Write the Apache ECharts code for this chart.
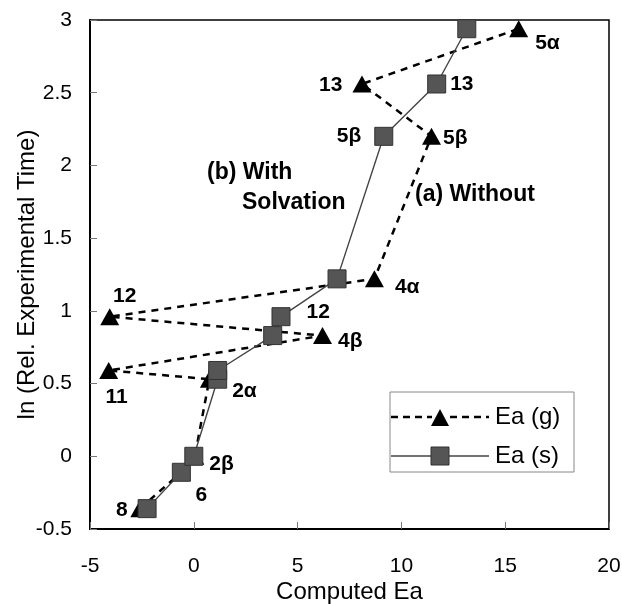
<!DOCTYPE html>
<html>
<head>
<meta charset="utf-8">
<script src="https://cdn.jsdelivr.net/npm/echarts@6/dist/echarts.min.js"></script>
<style>
html,body{margin:0;padding:0;background:#fff}
#main{width:622px;height:604px}
</style>
</head>
<body>
<div id="main"></div>
<script>
// compounds, ordered by experimental time
var compounds = ['8','6','2β','2α','11','4β','12','4α','5β','13','5α'];
var lnTime = [-0.36,-0.11,0.0,0.53,0.59,0.83,0.96,1.22,2.2,2.56,2.94];
// computed Ea, gas phase (a) and with solvation (b)
var eaGas = [-2.6,-0.6,0.05,0.75,-4.1,6.2,-4.05,8.7,11.45,8.1,15.65];
var eaSolv = [-2.25,-0.6,0.0,1.15,1.15,3.8,4.2,6.9,9.15,11.7,13.15];
var xTicks = [-5,0,5,10,15,20];
var yTicks = [-0.5,0,0.5,1,1.5,2,2.5,3];

var font = 'Liberation Sans, Arial, sans-serif';

// which points get a name tag and where it sits
var gasLabels = {
    '11': {position:'bottom', distance:8, offset:[8,0]},
    '12': {position:'top', distance:1, offset:[15,0]},
    '4β': {position:'right', distance:6, offset:[0,6]},
    '4α': {position:'right', distance:11, offset:[0,8]},
    '5β': {position:'right', distance:2, offset:[0,2]},
    '13': {position:'left', distance:10, offset:[0,1]},
    '5α': {position:'right', distance:7, offset:[0,14]}
};
var solvLabels = {
    '8': {position:'left', distance:10, offset:[0,2]},
    '6': {position:'bottom', distance:3, offset:[20,0]},
    '2β': {position:'right', distance:6, offset:[0,8]},
    '2α': {position:'right', distance:5, offset:[0,12]},
    '12': {position:'right', distance:16, offset:[0,-4]},
    '5β': {position:'left', distance:13, offset:[0,0]},
    '13': {position:'right', distance:4, offset:[0,0]}
};

function buildData(xs, tags) {
    return compounds.map(function (name, i) {
        var item = {name: name, value: [xs[i], lnTime[i]]};
        var t = tags[name];
        if (t) {
            item.label = {
                show: true,
                formatter: name,
                position: t.position,
                distance: t.distance,
                offset: t.offset,
                color: '#000',
                fontWeight: 'bold',
                fontSize: 21,
                fontFamily: font
            };
        }
        return item;
    });
}

// key box, drawn by hand so the line runs on both sides of the marker
var gasDash = {stroke: '#000', lineWidth: 2.5, lineDash: [7, 5]};
var solvRule = {stroke: '#444', lineWidth: 1.3};
var legendKey = [
    {type: 'rect', shape: {x: 390, y: 392, width: 184, height: 80}, style: {fill: 'none', stroke: '#888', lineWidth: 1}},
    {type: 'line', shape: {x1: 391, y1: 417, x2: 432, y2: 417}, style: gasDash},
    {type: 'line', shape: {x1: 450, y1: 417, x2: 489, y2: 417}, style: gasDash},
    {type: 'polygon', shape: {points: [[431, 426], [440, 409], [449, 426]]}, style: {fill: '#000'}},
    {type: 'text', x: 495, y: 417, style: {text: 'Ea (g)', font: '24px ' + font, fill: '#000', verticalAlign: 'middle'}},
    {type: 'line', shape: {x1: 391, y1: 456, x2: 431, y2: 456}, style: solvRule},
    {type: 'line', shape: {x1: 449, y1: 456, x2: 489, y2: 456}, style: solvRule},
    {type: 'rect', shape: {x: 431, y: 447, width: 18, height: 18}, style: {fill: '#555', stroke: '#333', lineWidth: 1}},
    {type: 'text', x: 495, y: 456, style: {text: 'Ea (s)', font: '24px ' + font, fill: '#000', verticalAlign: 'middle'}}
].map(function (el) { el.z = 100; return el; });

var myChart = echarts.init(document.getElementById('main'));
var option = {
    backgroundColor: '#fff',
    animation: false,
    grid: {
        left: 90, right: 13, top: 20, bottom: 75,
        outerBoundsMode: 'none',
        show: true, borderColor: '#000', borderWidth: 1.5
    },
    xAxis: {
        type: 'value',
        min: xTicks[0], max: xTicks[xTicks.length - 1], interval: 5,
        name: 'Computed Ea',
        nameLocation: 'middle',
        nameGap: 51,
        nameMoveOverlap: false,
        nameTextStyle: {fontSize: 24, color: '#000', fontFamily: font},
        axisLine: {onZero: false, lineStyle: {color: '#000', width: 2}},
        axisTick: {inside: true, length: 7, lineStyle: {color: '#777'}},
        axisLabel: {fontSize: 21, color: '#000', fontFamily: font, margin: 27},
        splitLine: {show: false}
    },
    yAxis: {
        type: 'value',
        min: yTicks[0], max: yTicks[yTicks.length - 1], interval: 0.5,
        name: 'ln (Rel. Experimental Time)',
        nameLocation: 'middle',
        nameGap: 51,
        nameMoveOverlap: false,
        nameTextStyle: {fontSize: 24, color: '#000', fontFamily: font},
        axisLine: {onZero: false, lineStyle: {color: '#000', width: 2}},
        axisTick: {inside: true, length: 7, lineStyle: {color: '#777'}},
        axisLabel: {fontSize: 21, color: '#000', fontFamily: font, margin: 18},
        splitLine: {show: false}
    },
    graphic: [
        {type: 'text', left: 207, top: 161, style: {text: '(b) With', font: 'bold 23px ' + font, fill: '#000'}},
        {type: 'text', left: 242, top: 191, style: {text: 'Solvation', font: 'bold 23px ' + font, fill: '#000'}},
        {type: 'text', left: 415, top: 183, style: {text: '(a) Without', font: 'bold 23px ' + font, fill: '#000'}}
    ].concat(legendKey),
    series: [
        {
            name: 'Ea (g)',
            type: 'line',
            data: buildData(eaGas, gasLabels),
            symbol: 'triangle',
            symbolSize: [19, 17],
            itemStyle: {color: '#000'},
            lineStyle: {color: '#000', width: 2.5, type: [7, 6]},
            z: 2
        },
        {
            name: 'Ea (s)',
            type: 'line',
            data: buildData(eaSolv, solvLabels),
            symbol: 'rect',
            symbolSize: 18,
            itemStyle: {color: '#555', borderColor: '#333', borderWidth: 1},
            lineStyle: {color: '#444', width: 1.4},
            z: 3
        }
    ]
};
myChart.setOption(option);
</script>
</body>
</html>
